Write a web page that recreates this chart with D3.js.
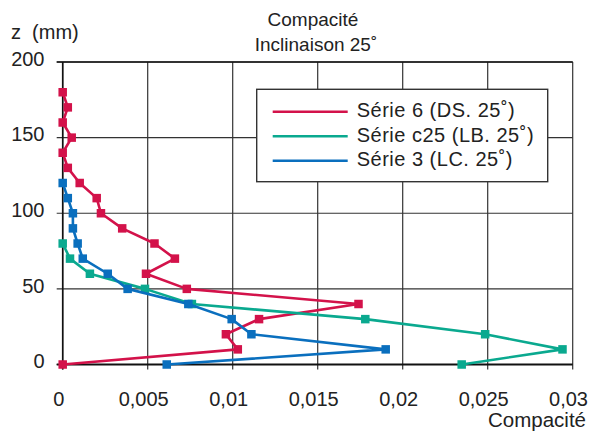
<!DOCTYPE html>
<html>
<head>
<meta charset="utf-8">
<script src="https://cdn.jsdelivr.net/npm/d3@7"></script>
<style>
  html, body { margin: 0; padding: 0; background: #fff; }
  svg { display: block; font-family: "Liberation Sans", Arial, Helvetica, sans-serif; }
</style>
</head>
<body>
<svg id="chart" width="590" height="439"></svg>
<script>
// Depth z (mm) of each measurement and compaction values per series
const zSerie6 = [180, 170, 160, 150, 140, 130, 120, 110, 100, 90, 80, 70, 60, 50, 40, 30, 20, 10, 0];
const serie6  = [0.0000, 0.0003, 0.0000, 0.00053, 0.0000, 0.0003, 0.0010, 0.0020, 0.00225, 0.0035, 0.0054, 0.0066, 0.0049, 0.0073, 0.0174, 0.01155, 0.0096, 0.0103, 0.0000];

const zSerieC25 = [80, 70, 60, 50, 40, 30, 20, 10, 0];
const serieC25  = [0.0000, 0.00043, 0.0016, 0.00484, 0.0076, 0.0178, 0.02485, 0.0294, 0.02347];

const zSerie3 = [120, 110, 100, 90, 80, 70, 60, 50, 40, 30, 20, 10, 0];
const serie3  = [0.0000, 0.0003, 0.0006, 0.0006, 0.00088, 0.00118, 0.00265, 0.00382, 0.00739, 0.00994, 0.0111, 0.0190, 0.00612];

const xTicks = [0, 0.005, 0.01, 0.015, 0.02, 0.025, 0.03];
const xTickLabels = ["0", "0,005", "0,01", "0,015", "0,02", "0,025", "0,03"];
const yTicks = [0, 50, 100, 150, 200];

const seriesNames = ["Série 6 (DS. 25˚)", "Série c25 (LB. 25˚)", "Série 3 (LC. 25˚)"];
const seriesColors = ["#d3124a", "#0aa98f", "#0a6fbe"];

const series = [
  { name: seriesNames[0], color: seriesColors[0], z: zSerie6, v: serie6 },
  { name: seriesNames[1], color: seriesColors[1], z: zSerieC25, v: serieC25 },
  { name: seriesNames[2], color: seriesColors[2], z: zSerie3, v: serie3 }
];

const svg = d3.select("#chart");
const plotLeft = 62.7, plotRight = 572.7, plotTop = 62, plotBottom = 364.5;

const x = d3.scaleLinear().domain([0, 0.03]).range([plotLeft, plotRight]);
const y = d3.scaleLinear().domain([0, 200]).range([plotBottom, plotTop]);

const textColor = "#222";

// Grid lines (vertical and horizontal), including short tick stubs outside the frame
const grid = svg.append("g");
grid.selectAll("line.vx").data(xTicks).join("line")
  .attr("x1", d => x(d)).attr("x2", d => x(d))
  .attr("y1", plotTop).attr("y2", plotBottom + 5)
  .attr("stroke", "#333").attr("stroke-width", 1.2);
grid.selectAll("line.hy").data(yTicks).join("line")
  .attr("x1", plotLeft - 6).attr("x2", plotRight)
  .attr("y1", d => y(d)).attr("y2", d => y(d))
  .attr("stroke", "#333").attr("stroke-width", 1.2);

// Axis lines
svg.append("line").attr("x1", plotLeft).attr("x2", plotLeft).attr("y1", plotTop).attr("y2", plotBottom + 5)
  .attr("stroke", "#111").attr("stroke-width", 1.6);
svg.append("line").attr("x1", plotLeft - 6).attr("x2", plotRight).attr("y1", plotBottom).attr("y2", plotBottom)
  .attr("stroke", "#111").attr("stroke-width", 2);
svg.append("line").attr("x1", plotLeft - 6).attr("x2", plotRight).attr("y1", plotTop).attr("y2", plotTop)
  .attr("stroke", "#111").attr("stroke-width", 1.6);

// Tick labels (the last one is kept inside the right edge)
svg.append("g").selectAll("text").data(xTicks).join("text")
  .attr("x", (d, i) => i === xTicks.length - 1 ? 588 : x(d) - 4)
  .attr("y", 406)
  .attr("text-anchor", (d, i) => i === xTicks.length - 1 ? "end" : "middle")
  .attr("font-size", 20).attr("fill", textColor)
  .text((d, i) => xTickLabels[i]);

svg.append("g").selectAll("text").data(yTicks).join("text")
  .attr("x", 44.5).attr("y", d => y(d) + 3.8)
  .attr("text-anchor", "end")
  .attr("font-size", 20).attr("fill", textColor)
  .text(d => d);

// Titles and axis labels
svg.append("text").attr("x", 313).attr("y", 26).attr("text-anchor", "middle")
  .attr("font-size", 19).attr("fill", textColor).text("Compacité");
svg.append("text").attr("x", 316).attr("y", 51).attr("text-anchor", "middle")
  .attr("font-size", 19).attr("fill", textColor).text("Inclinaison 25˚");
svg.append("text").attr("x", 11).attr("y", 39)
  .attr("font-size", 20).attr("fill", textColor).attr("xml:space", "preserve").text("z  (mm)");
svg.append("text").attr("x", 586).attr("y", 427).attr("text-anchor", "end")
  .attr("font-size", 20.5).attr("fill", textColor).text("Compacité");

// Series lines and square markers
const line = d3.line().x(d => x(d[0])).y(d => y(d[1]));
const ms = 8.5;
series.forEach(s => {
  const pts = s.v.map((v, i) => [v, s.z[i]]);
  const g = svg.append("g");
  g.append("path").datum(pts).attr("d", line)
    .attr("fill", "none").attr("stroke", s.color).attr("stroke-width", 2.6)
    .attr("stroke-linejoin", "round");
  g.selectAll("rect").data(pts).join("rect")
    .attr("x", d => x(d[0]) - ms / 2).attr("y", d => y(d[1]) - ms / 2)
    .attr("width", ms).attr("height", ms).attr("fill", s.color);
});

// Legend
const lg = svg.append("g");
lg.append("rect").attr("x", 256.7).attr("y", 89.3).attr("width", 291).attr("height", 92.4)
  .attr("fill", "#fff").attr("stroke", "#333").attr("stroke-width", 1.4);
series.forEach((s, i) => {
  const ly = 111.7 + i * 24.5;
  lg.append("line").attr("x1", 272.7).attr("x2", 347.7).attr("y1", ly).attr("y2", ly)
    .attr("stroke", s.color).attr("stroke-width", 2.6);
  lg.append("text").attr("x", 356.7).attr("y", ly + 5.5)
    .attr("font-size", 20).attr("letter-spacing", 0.5).attr("fill", textColor).text(s.name);
});
</script>
</body>
</html>
